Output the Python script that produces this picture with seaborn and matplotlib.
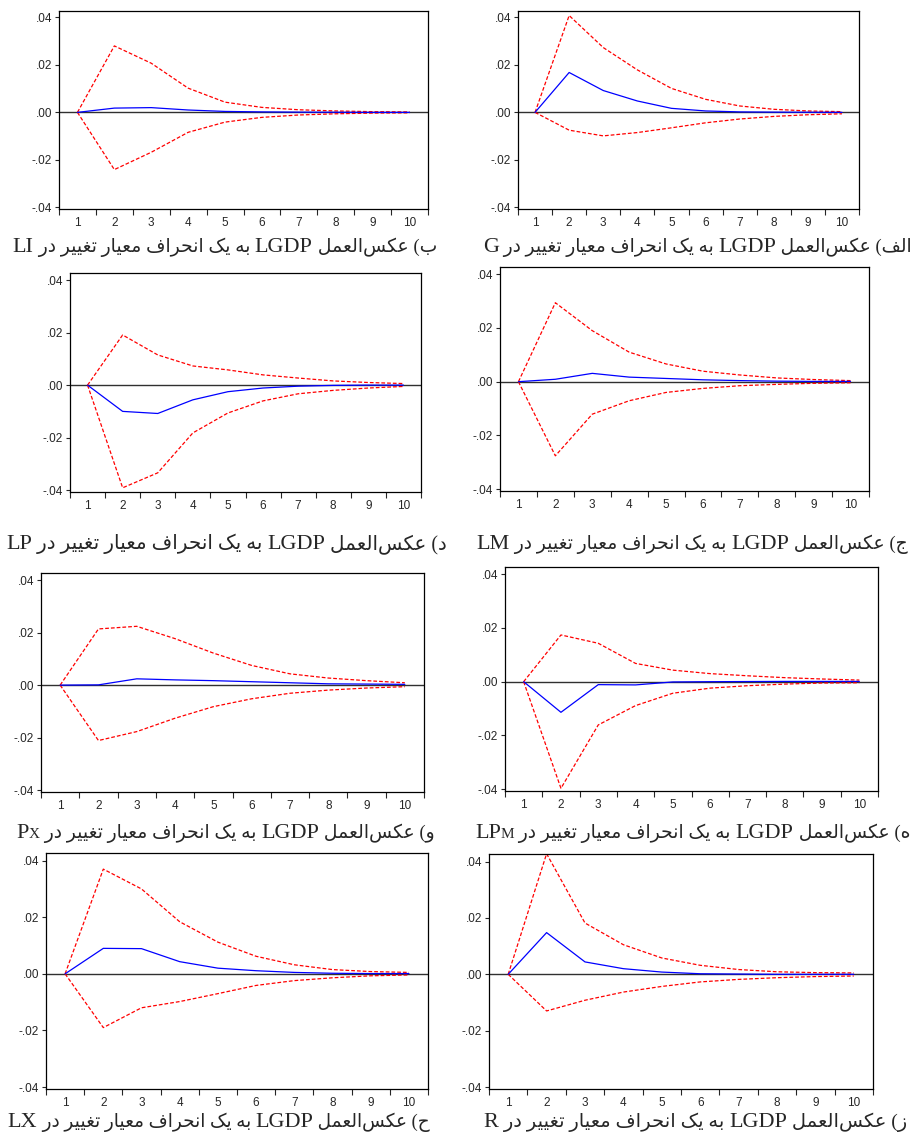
import matplotlib
matplotlib.use("Agg")
import matplotlib.pyplot as plt
from matplotlib.ticker import FixedLocator, FuncFormatter, NullFormatter
import seaborn as sns
import pandas as pd

# ---------------- data ----------------
periods = [1, 2, 3, 4, 5, 6, 7, 8, 9, 10]

shock_names = ["LI", "G", "LP", "LM", "PX", "LPM", "LX", "R"]

resp_LI = [0.0, 0.0018, 0.0020, 0.0010, 0.0004, 0.0002, 0.0001, 0.00005, 0.0, 0.0]
up_LI = [0.0, 0.0280, 0.0207, 0.0102, 0.0043, 0.0021, 0.0011, 0.0006, 0.0003, 0.0002]
lo_LI = [0.0, -0.0241, -0.0168, -0.0084, -0.0041, -0.0021, -0.0011, -0.0006, -0.0003, -0.0002]

resp_G = [0.0, 0.0168, 0.0092, 0.0048, 0.0017, 0.0006, 0.0002, 0.0001, 0.00005, 0.0]
up_G = [0.0, 0.0408, 0.0273, 0.0179, 0.0101, 0.0055, 0.0027, 0.0013, 0.0006, 0.0003]
lo_G = [0.0, -0.0075, -0.0099, -0.0085, -0.0065, -0.0044, -0.0028, -0.0017, -0.0010, -0.0006]

resp_LP = [0.0, -0.0100, -0.0108, -0.0056, -0.0025, -0.0011, -0.0004, -0.0001, 0.0, 0.0]
up_LP = [0.0, 0.0191, 0.0115, 0.0073, 0.0058, 0.0039, 0.0027, 0.0016, 0.0010, 0.0006]
lo_LP = [0.0, -0.0391, -0.0334, -0.0182, -0.0106, -0.0060, -0.0033, -0.0020, -0.0011, -0.0005]

resp_LM = [0.0, 0.0009, 0.0031, 0.0017, 0.0012, 0.0007, 0.0004, 0.0002, 0.0001, 0.0001]
up_LM = [0.0, 0.0294, 0.0190, 0.0110, 0.0066, 0.0039, 0.0025, 0.0014, 0.0008, 0.0004]
lo_LM = [0.0, -0.0276, -0.0121, -0.0071, -0.0040, -0.0025, -0.0015, -0.0010, -0.0006, -0.0004]

resp_PX = [0.0, 0.0001, 0.0024, 0.0020, 0.0017, 0.0013, 0.0009, 0.0005, 0.0004, 0.0003]
up_PX = [0.0, 0.0214, 0.0224, 0.0177, 0.0122, 0.0075, 0.0043, 0.0027, 0.0017, 0.0009]
lo_PX = [0.0, -0.0211, -0.0177, -0.0126, -0.0082, -0.0052, -0.0031, -0.0019, -0.0011, -0.0006]

resp_LPM = [0.0, -0.0114, -0.0011, -0.0012, -0.0001, 0.0, 0.00005, 0.0001, 0.0001, 0.0001]
up_LPM = [0.0, 0.0174, 0.0143, 0.0068, 0.0043, 0.0030, 0.0022, 0.0015, 0.0010, 0.0006]
lo_LPM = [0.0, -0.0397, -0.0161, -0.0089, -0.0043, -0.0024, -0.0015, -0.0009, -0.0005, -0.0004]

resp_LX = [0.0, 0.0090, 0.0089, 0.0043, 0.0020, 0.0011, 0.0005, 0.0002, 0.0001, 0.0001]
up_LX = [0.0, 0.0370, 0.0300, 0.0184, 0.0112, 0.0062, 0.0032, 0.0015, 0.0008, 0.0005]
lo_LX = [0.0, -0.0190, -0.0120, -0.0098, -0.0070, -0.0041, -0.0024, -0.0014, -0.0007, -0.0004]

resp_R = [0.0, 0.0148, 0.0044, 0.0020, 0.0008, 0.0002, 0.0001, 0.0, 0.0, 0.0]
up_R = [0.0, 0.0428, 0.0182, 0.0105, 0.0058, 0.0032, 0.0017, 0.0009, 0.0006, 0.0005]
lo_R = [0.0, -0.0130, -0.0092, -0.0063, -0.0043, -0.0027, -0.0018, -0.0012, -0.0008, -0.0006]

responses = {"LI": resp_LI, "G": resp_G, "LP": resp_LP, "LM": resp_LM,
             "PX": resp_PX, "LPM": resp_LPM, "LX": resp_LX, "R": resp_R}
uppers = {"LI": up_LI, "G": up_G, "LP": up_LP, "LM": up_LM,
          "PX": up_PX, "LPM": up_LPM, "LX": up_LX, "R": up_R}
lowers = {"LI": lo_LI, "G": lo_G, "LP": lo_LP, "LM": lo_LM,
          "PX": lo_PX, "LPM": lo_LPM, "LX": lo_LX, "R": lo_R}

# caption parts
caption_letters = ["ب", "الف", "د", "ج", "و", "ه", "ح", "ز"]
caption_head = "عکس‌العمل"
caption_latin = "LGDP"
caption_tail = "به یک انحراف معیار تغییر در"
caption_vars = [("LI", ""), ("G", ""), ("LP", ""), ("LM", ""),
                ("P", "X"), ("LP", "M"), ("LX", ""), ("R", "")]

ytick_vals = [-0.04, -0.02, 0.0, 0.02, 0.04]

# ---------------- layout (pixels: left, top, right, bottom) ----------------
W, H = 914, 1147
axes_px = [(59, 11, 428, 209), (518, 11, 859, 209),
           (70, 273, 421, 492), (500, 267, 869, 491),
           (41, 573, 424, 792), (505, 567, 878, 791),
           (46, 853, 428, 1089), (489, 854, 873, 1089)]
# caption: left x, right x, baseline y
caption_px = [(13, 437, 252), (483, 912, 252), (7, 447, 549), (478, 908, 549),
              (17, 435, 838), (475, 910, 838), (7, 430, 1127), (485, 907, 1127)]

# ---------------- simple Arabic/Persian shaping ----------------
FORMS = {
    "ا": ("\uFE8D", "\uFE8E", None, None),
    "ب": ("\uFE8F", "\uFE90", "\uFE91", "\uFE92"),
    "ت": ("\uFE95", "\uFE96", "\uFE97", "\uFE98"),
    "ج": ("\uFE9D", "\uFE9E", "\uFE9F", "\uFEA0"),
    "ح": ("\uFEA1", "\uFEA2", "\uFEA3", "\uFEA4"),
    "د": ("\uFEA9", "\uFEAA", None, None),
    "ر": ("\uFEAD", "\uFEAE", None, None),
    "ز": ("\uFEAF", "\uFEB0", None, None),
    "س": ("\uFEB1", "\uFEB2", "\uFEB3", "\uFEB4"),
    "ع": ("\uFEC9", "\uFECA", "\uFECB", "\uFECC"),
    "غ": ("\uFECD", "\uFECE", "\uFECF", "\uFED0"),
    "ف": ("\uFED1", "\uFED2", "\uFED3", "\uFED4"),
    "ل": ("\uFEDD", "\uFEDE", "\uFEDF", "\uFEE0"),
    "م": ("\uFEE1", "\uFEE2", "\uFEE3", "\uFEE4"),
    "ن": ("\uFEE5", "\uFEE6", "\uFEE7", "\uFEE8"),
    "ه": ("\uFEE9", "\uFEEA", "\uFEEB", "\uFEEC"),
    "و": ("\uFEED", "\uFEEE", None, None),
    "ی": ("\uFBFC", "\uFBFD", "\uFBFE", "\uFBFF"),
    "ک": ("\uFB8E", "\uFB8F", "\uFB90", "\uFB91"),
}
MIRROR = {"(": ")", ")": "("}


def shape(word):
    out = []
    n = len(word)
    for i, ch in enumerate(word):
        if ch not in FORMS:
            if ch != "\u200c":
                out.append(ch)
            continue
        iso, fin, ini, med = FORMS[ch]
        prev = word[i - 1] if i > 0 else None
        nxt = word[i + 1] if i < n - 1 else None
        jp = prev in FORMS and FORMS[prev][2] is not None
        jn = (nxt in FORMS) and ini is not None
        if jp and jn:
            out.append(med)
        elif jp:
            out.append(fin)
        elif jn:
            out.append(ini)
        else:
            out.append(iso)
    return "".join(out)


def visual(text):
    toks = text.split(" ")
    vis = []
    for t in reversed(toks):
        s = shape(t)
        vis.append("".join(MIRROR.get(c, c) for c in reversed(s)))
    return " ".join(vis)


# ---------------- plotting ----------------
sns.set_style("ticks")
plt.rcParams["font.family"] = ["Liberation Sans", "DejaVu Sans"]
CAP_FONT = ["Liberation Serif", "DejaVu Sans"]
LAT_SIZE = 16
SMALL_SIZE = 11

fig = plt.figure(figsize=(W / 100, H / 100), dpi=100)


def yfmt(v, pos):
    s = f"{v:.2f}"
    if s.startswith("-0"):
        s = "-" + s[2:]
    elif s.startswith("0"):
        s = s[1:]
    if s == "-.00":
        s = ".00"
    return s


for k, name in enumerate(shock_names):
    l, t, r, b = axes_px[k]
    ax = fig.add_axes([l / W, 1 - b / H, (r - l) / W, (b - t) / H])
    ax.axhline(0, color="#303030", lw=1.0, zorder=1)
    df = pd.DataFrame({"period": periods, "resp": responses[name],
                       "up": uppers[name], "lo": lowers[name]})
    sns.lineplot(data=df, x="period", y="up", ax=ax, color="#FF0000",
                 lw=0.9, linestyle=(0, (3, 1.6)), zorder=2)
    sns.lineplot(data=df, x="period", y="lo", ax=ax, color="#FF0000",
                 lw=0.9, linestyle=(0, (3, 1.6)), zorder=2)
    sns.lineplot(data=df, x="period", y="resp", ax=ax, color="#0000FF",
                 lw=0.9, zorder=3)
    ax.set_xlim(0.5, 10.5)
    ax.set_ylim(-0.0407, 0.0427)
    ax.set_xlabel("")
    ax.set_ylabel("")
    ax.xaxis.set_major_locator(FixedLocator(periods))
    ax.xaxis.set_minor_locator(FixedLocator([p - 0.5 for p in periods] + [10.5]))
    ax.xaxis.set_minor_formatter(NullFormatter())
    ax.tick_params(axis="x", which="major", length=0, labelsize=8.5, pad=6)
    ax.tick_params(axis="x", which="minor", length=4, width=0.8, direction="out")
    ax.yaxis.set_major_locator(FixedLocator(ytick_vals))
    ax.yaxis.set_major_formatter(FuncFormatter(yfmt))
    ax.tick_params(axis="y", length=3, width=0.8, labelsize=8.5, pad=2)
    for sp in ax.spines.values():
        sp.set_color("black")
        sp.set_linewidth(0.9)

# captions (laid out right-to-left as separate runs)
fig.canvas.draw()
renderer = fig.canvas.get_renderer()


def measure(s, size):
    t = fig.text(0, 0, s, fontsize=size, family=CAP_FONT)
    w = t.get_window_extent(renderer).width
    t.remove()
    return w


for k in range(len(shock_names)):
    xl_t, xr, yb = caption_px[k]
    base, small = caption_vars[k]
    ar1 = " " + visual(caption_letters[k] + ") " + caption_head)
    ar2 = " " + visual(caption_tail) + " "
    lat = [(caption_latin, LAT_SIZE)]
    if small:
        lat.append((small, SMALL_SIZE))
    lat.append((base, LAT_SIZE))
    lat_w = sum(measure(s, sz) for s, sz in lat)
    ar_w = measure(ar1, LAT_SIZE) + measure(ar2, LAT_SIZE)
    ar_size = LAT_SIZE * (xr - xl_t - lat_w) / ar_w
    runs = [(ar1, ar_size), (caption_latin, LAT_SIZE), (ar2, ar_size)]
    if small:
        runs.append((small, SMALL_SIZE))
    runs.append((base, LAT_SIZE))
    x = xr
    for s, sz in runs:
        tx = fig.text(x / W, 1 - yb / H, s, ha="right", va="baseline",
                      fontsize=sz, family=CAP_FONT)
        x = tx.get_window_extent(renderer).x0

fig.savefig("out.png", dpi=100)
